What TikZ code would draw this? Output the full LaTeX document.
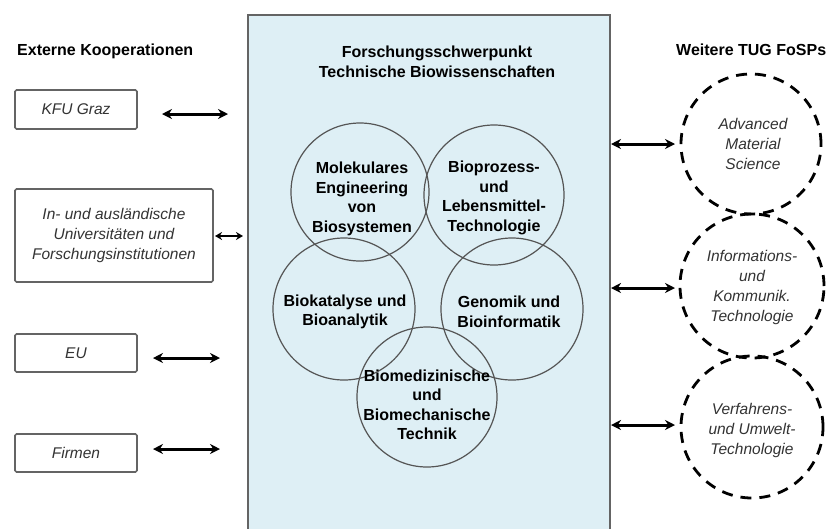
\documentclass[tikz,border=0pt]{standalone}
\usepackage{fontspec}
\setmainfont{Liberation Sans}
\usetikzlibrary{arrows.meta}
\definecolor{boxblue}{RGB}{222,239,245}
\definecolor{lgray}{RGB}{100,100,100}
\definecolor{cgray}{RGB}{85,85,85}
\tikzset{
  txt/.style={font=\fontsize{16}{19.5}\selectfont, align=center, inner sep=0pt},
  btxt/.style={txt, font=\fontsize{16}{19.5}\selectfont\bfseries},
  itxt/.style={txt, font=\fontsize{15.5}{20}\selectfont\itshape, text=black!80},
  extbox/.style={draw=lgray, line width=1.6pt, rounded corners=1.5pt, fill=white},
  fcirc/.style={circle, draw=cgray, line width=1.2pt, inner sep=0pt},
  dcirc/.style={circle, draw=black, line width=2.8pt, dash pattern=on 11pt off 8pt, inner sep=0pt},
  dbl/.style={{Stealth[length=10pt,width=10pt]}-{Stealth[length=10pt,width=10pt]}, line width=3pt},
  dblsmall/.style={{Stealth[length=7pt,width=8pt]}-{Stealth[length=7pt,width=8pt]}, line width=2.6pt},
}
\begin{document}
\begin{tikzpicture}[x=1pt,y=-1pt]
\useasboundingbox (0,0) rectangle (826,528);
\fill[white] (0,0) rectangle (826,528);
% main box
\node[draw=lgray, line width=2pt, fill=boxblue, minimum width=362pt, minimum height=530pt, anchor=north west, inner sep=0pt] (main) at (247,14) {};
\node[btxt] (title) at (437,62) {Forschungsschwerpunkt\\Technische Biowissenschaften};
% circles
\node[fcirc, minimum size=138pt] (c1) at (360,192) {};
\node[fcirc, minimum size=140pt] (c2) at (494,195) {};
\node[fcirc, minimum size=142pt] (c3) at (344,309) {};
\node[fcirc, minimum size=142pt] (c4) at (512,309) {};
\node[fcirc, minimum size=140pt] (c5) at (427,397) {};
\node[btxt] (t1) at (362,199) {Molekulares\\Engineering\\von\\Biosystemen};
\node[btxt] (t2) at (494,198) {Bioprozess-\\und\\Lebensmittel-\\Technologie};
\node[btxt] (t3) at (345,312) {Biokatalyse und\\Bioanalytik};
\node[btxt] (t4) at (509,312) {Genomik und\\Bioinformatik};
\node[btxt] (t5) at (427,405) {Biomedizinische\\und\\Biomechanische\\Technik};
% left
\node[btxt, anchor=west] (ext) at (17,51) {Externe Kooperationen};
\node[extbox, minimum width=122pt, minimum height=39pt] (kfu) at (76,109.5) {};
\node[itxt] at (kfu) {KFU Graz};
\node[extbox, minimum width=198pt, minimum height=93pt] (uni) at (114,235.5) {};
\node[itxt] at (uni) {In- und ausländische\\Universitäten und\\Forschungsinstitutionen};
\node[extbox, minimum width=122pt, minimum height=38pt] (eu) at (76,353) {};
\node[itxt] at (eu) {EU};
\node[extbox, minimum width=122pt, minimum height=38pt] (firm) at (76,453) {};
\node[itxt] at (firm) {Firmen};
\coordinate (a1) at (162,114); \coordinate (b1) at (228,114);
\coordinate (a2) at (215,236); \coordinate (b2) at (243,236);
\coordinate (a3) at (153,358); \coordinate (b3) at (220,358);
\coordinate (a4) at (153,449); \coordinate (b4) at (220,449);
\draw[dbl] (a1) -- (b1);
\draw[dblsmall] (a2) -- (b2);
\draw[dbl] (a3) -- (b3);
\draw[dbl] (a4) -- (b4);
% right
\node[btxt, anchor=west] (weit) at (676,50) {Weitere TUG FoSPs};
\node[dcirc, minimum size=140pt] (d1) at (751,144) {};
\node[dcirc, minimum size=144pt] (d2) at (752,286) {};
\node[dcirc, minimum size=142pt] (d3) at (752,427) {};
\node[itxt] at (753,144) {Advanced\\Material\\Science};
\node[itxt] at (752,287) {Informations-\\und\\Kommunik.\\Technologie};
\node[itxt] at (752,430) {Verfahrens-\\und Umwelt-\\Technologie};
\coordinate (r1) at (675,144); \coordinate (r2) at (675,288); \coordinate (r3) at (675,425);
\draw[dbl] (main.east |- r1) -- (r1);
\draw[dbl] (main.east |- r2) -- (r2);
\draw[dbl] (main.east |- r3) -- (r3);
\end{tikzpicture}
\end{document}
